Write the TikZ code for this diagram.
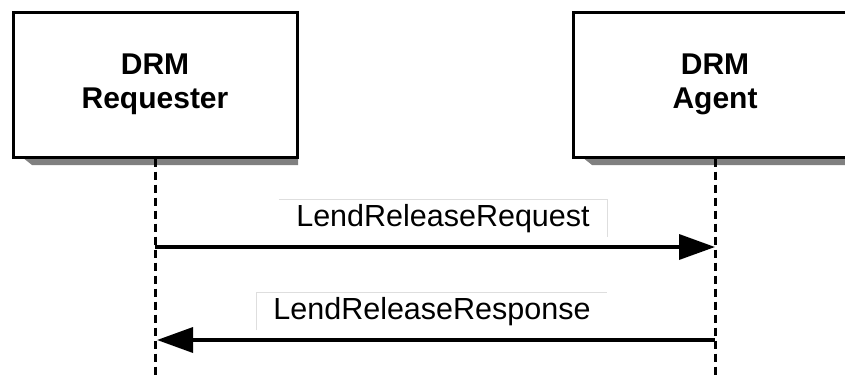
\documentclass[tikz,border=0pt]{standalone}
\usepackage{fontspec}
\setmainfont{Liberation Sans}
\usetikzlibrary{arrows.meta}

\tikzset{
  actor/.style={draw=black, line width=3pt, fill=white, minimum width=284pt,
    minimum height=145pt, inner sep=0pt, align=center,
    font=\fontsize{30}{34}\selectfont\bfseries},
  actorshadow/.style={fill=black!50, draw=none},
  lifeline/.style={line width=3pt, dash pattern=on 8.5pt off 4.5pt},
  message/.style={line width=3.6pt, -{Triangle[length=36pt,width=25pt]}},
  msglabel/.style={inner sep=0pt, minimum height=37pt, font=\fontsize{30.5}{34}\selectfont},
  labelframe/.style={draw=black!13, line width=1pt},
}

\begin{document}
\begin{tikzpicture}[x=1pt, y=-1pt]
  \useasboundingbox (0,0) rectangle (845,376);
  \clip (0,0) rectangle (845,376);

  % drop shadows under the participant boxes
  \fill[actorshadow] (22,157) -- (298,157) -- (298,165) -- (32,165) -- cycle;
  \fill[actorshadow] (582,157) -- (858,157) -- (858,165) -- (592,165) -- cycle;

  % participants
  \node[actor] (req) at (155,84.5) {DRM\\Requester};
  \node[actor] (agt) at (715,84.5) {DRM\\Agent};

  % lifelines
  \coordinate (bottom) at (0,378);
  \draw[lifeline] (req.south) -- (req.south |- bottom);
  \draw[lifeline] (agt.south) -- (agt.south |- bottom);

  % message anchors on the lifelines
  \coordinate (m1) at (0,247);
  \coordinate (m2) at (0,340);
  \coordinate (req1) at (req.south |- m1);
  \coordinate (agt1) at (agt.south |- m1);
  \coordinate (req2) at (req.south |- m2);
  \coordinate (agt2) at (agt.south |- m2);

  % message labels
  \node[msglabel, minimum width=328pt] (lab1) at (443,218.5) {LendReleaseRequest\hspace{7pt}};
  \node[msglabel, minimum width=350pt] (lab2) at (432,311.5) {LendReleaseResponse\hspace{8pt}};
  \draw[labelframe] (lab1.north west) -- (lab1.north east) -- (lab1.south east);
  \draw[labelframe] (lab2.south west) -- (lab2.north west) -- (lab2.north east);

  % messages
  \draw[message] (req1) -- (agt1);
  \draw[message] (agt2) -- ([xshift=2pt]req2);
\end{tikzpicture}
\end{document}
